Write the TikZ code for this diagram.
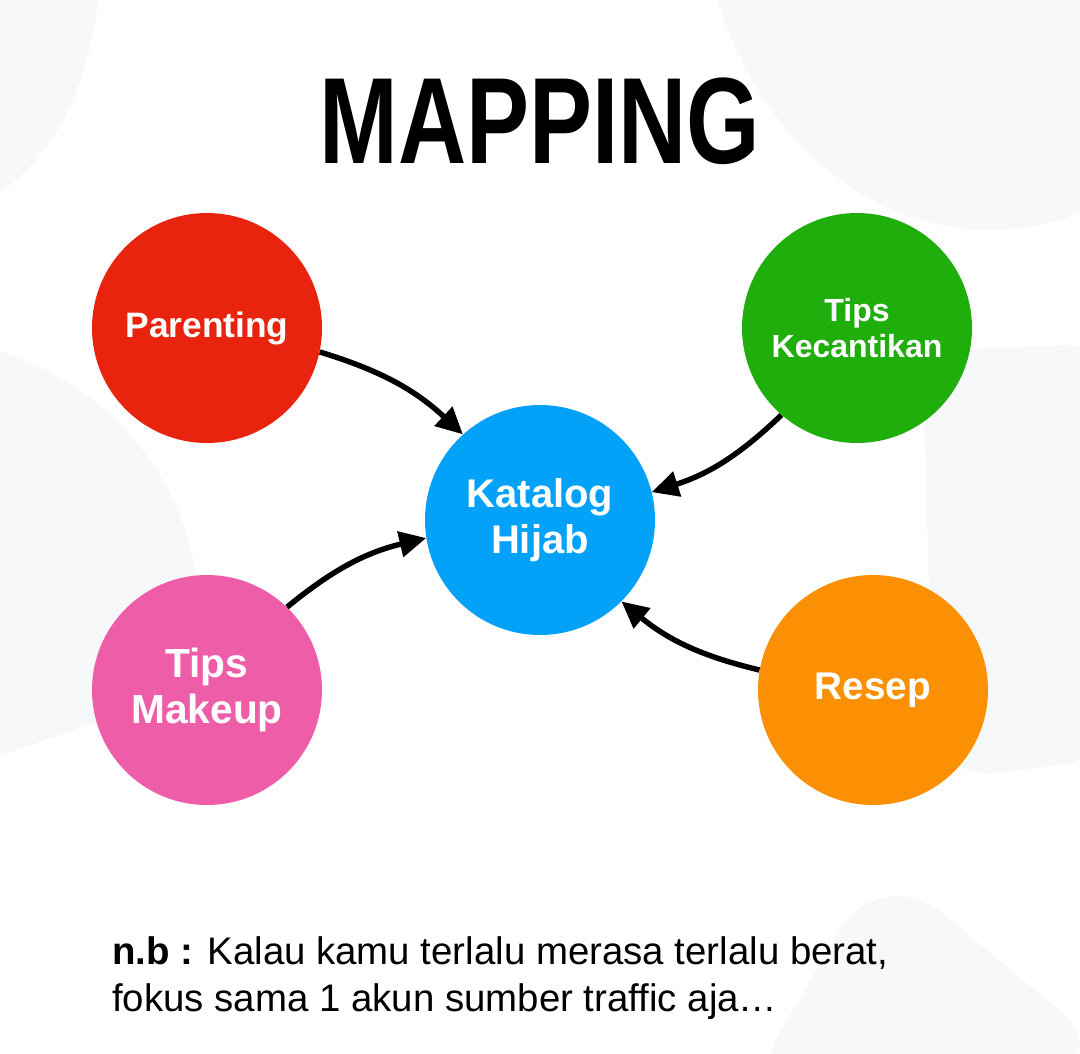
\documentclass[tikz,border=0pt]{standalone}
\usepackage{fontspec}
\setmainfont{Liberation Sans}
\usepackage{tikz}
\usetikzlibrary{positioning,arrows.meta}

\definecolor{blobgray}{RGB}{247,248,250}
\definecolor{parred}{RGB}{232,35,14}
\definecolor{kecgreen}{RGB}{31,174,12}
\definecolor{katblue}{RGB}{3,161,247}
\definecolor{makpink}{RGB}{238,93,167}
\definecolor{resorange}{RGB}{252,144,5}

\begin{document}
\begin{tikzpicture}[x=0.75pt,y=0.75pt,yscale=-1,xscale=1,
  topic/.style={circle,inner sep=0pt,minimum size=172.5pt,align=center,text=white},
  flow/.style={line width=4.1pt,-{Triangle[length=20pt,width=19pt]}}]
%set diagram left start at 0, and has height of 1053
\useasboundingbox (0,0) rectangle (1080,1053);
\fill[white] (0,0) rectangle (1080,1053);

%Shape: Ellipse [background, top left]
\fill[blobgray] (-60,-40) ellipse [x radius=160, y radius=250];
%Shape: Ellipse [background, top right]
\fill[blobgray] (990,-120) ellipse [x radius=290, y radius=350];
%Shape: Circle [background, left]
\begin{scope}
\clip (0,0) -- (0,755) -- (400,620) -- (400,0) -- cycle;
\fill[blobgray] (-80,620) circle [radius=280];
\end{scope}
%Shape: Polygon [background, right]
\fill[blobgray, rounded corners=45] (1120,342) -- (922,352) -- (935,780) -- (1120,758) -- cycle;
%Shape: Polygon [background, bottom right]
\fill[blobgray, rounded corners=60] (740,1100) -- (880,862) -- (1120,1060) -- cycle;

% Text Node
\node (title) at (540,163) [anchor=base] {\scalebox{0.77}[1]{\fontsize{92}{92}\selectfont\bfseries MAPPING}};

%Shape: Circle
\node (par) at (207,328) [topic, fill=parred, font=\fontsize{26.5}{32}\selectfont\bfseries] {\raisebox{-3pt}{Parenting}};
%Shape: Circle
\node (kec) at (857,328) [topic, fill=kecgreen, font=\fontsize{24}{27}\selectfont\bfseries] {Tips\\Kecantikan};
%Shape: Circle
\node (kat) at (540,520) [topic, fill=katblue, font=\fontsize{30}{35}\selectfont\bfseries] {Katalog\\Hijab};
%Shape: Circle
\node (mak) at (207,690) [topic, fill=makpink, font=\fontsize{30.5}{35}\selectfont\bfseries] {Tips\\Makeup};
%Shape: Circle
\node (res) at (873,690) [topic, fill=resorange, font=\fontsize{29}{35}\selectfont\bfseries] {Resep};

%Curve Lines
\draw[flow] (par.-12) to[bend right=13] (kat.132);
\draw[flow] (kec.229) to[bend right=13] (kat.14);
\draw[flow] (mak.46) to[bend right=13] (kat.189);
\draw[flow] (res.170) to[bend right=13] (kat.-45);

% Text Node
\node (nb1) at (112,964) [anchor=base west, inner sep=0pt, font=\fontsize{28.8}{35}\selectfont] {\textbf{n.b :} Kalau kamu terlalu merasa terlalu berat,};
% Text Node
\node (nb2) at (112,1011) [anchor=base west, inner sep=0pt, font=\fontsize{28.8}{35}\selectfont] {fokus sama 1 akun sumber traffic aja…};
\end{tikzpicture}
\end{document}
